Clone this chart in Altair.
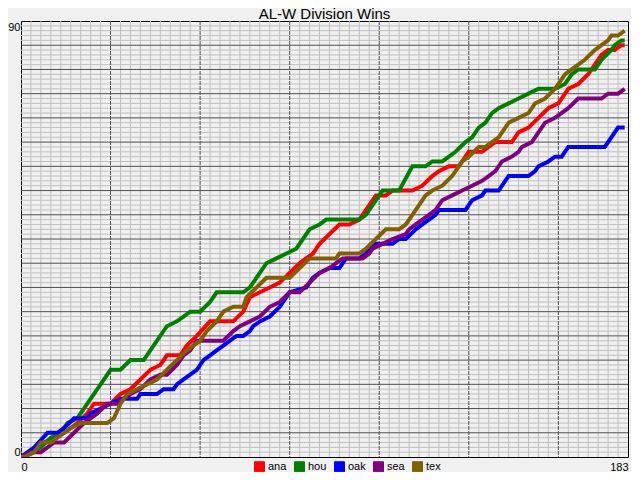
import altair as alt
import pandas as pd

teams = ["ana", "hou", "oak", "sea", "tex"]
colors = ["#ff0000", "#008000", "#0000ff", "#800080", "#806000"]

ana_days = [0, 4, 7, 10, 13, 17, 20, 22, 27, 30, 33, 36, 39, 42, 44, 48, 50, 53, 57, 64, 67, 69, 72, 75, 78, 81, 84, 86, 88, 90, 93, 96, 99, 102, 105, 107, 110, 112, 118, 121, 124, 126, 129, 132, 134, 135, 139, 141, 143, 148, 150, 153, 156, 159, 162, 165, 168, 171, 173, 175, 177, 179, 181, 182]
ana_wins = [0, 1, 3, 4, 5, 7, 9, 11, 11, 13, 14, 16, 18, 19, 21, 21, 23, 25, 28, 28, 30, 33, 34, 35, 36, 38, 40, 41, 42, 44, 46, 48, 48, 49, 52, 54, 54, 55, 55, 56, 58, 59, 60, 60, 62, 63, 63, 64, 65, 65, 67, 68, 70, 72, 73, 76, 77, 79, 81, 83, 84, 84, 85, 85]

hou_days = [0, 3, 6, 9, 12, 14, 17, 20, 24, 27, 30, 33, 37, 41, 44, 47, 49, 51, 54, 57, 59, 67, 69, 72, 74, 77, 80, 83, 85, 87, 90, 92, 102, 104, 107, 109, 114, 118, 122, 124, 127, 129, 131, 134, 136, 138, 140, 142, 144, 147, 150, 153, 156, 161, 164, 166, 168, 173, 175, 178, 179, 181, 182]
hou_wins = [0, 1, 2, 4, 5, 7, 8, 11, 15, 18, 18, 20, 20, 24, 27, 28, 29, 30, 30, 32, 34, 34, 35, 38, 40, 41, 42, 43, 45, 47, 48, 49, 49, 50, 53, 55, 55, 60, 60, 61, 61, 62, 63, 65, 66, 68, 69, 71, 72, 73, 74, 75, 76, 76, 77, 79, 80, 80, 82, 84, 85, 86, 86]

oak_days = [0, 4, 8, 11, 13, 16, 20, 21, 24, 27, 30, 35, 36, 41, 43, 46, 47, 49, 51, 53, 55, 57, 59, 61, 63, 65, 67, 69, 70, 72, 75, 78, 81, 86, 88, 90, 93, 96, 98, 102, 104, 105, 107, 112, 114, 116, 119, 121, 123, 125, 126, 134, 136, 139, 140, 144, 146, 147, 153, 155, 156, 159, 161, 163, 165, 167, 176, 177, 179, 180, 182]
oak_wins = [0, 2, 5, 5, 6, 8, 8, 9, 10, 11, 12, 12, 13, 13, 14, 14, 15, 16, 17, 18, 20, 21, 22, 23, 24, 25, 25, 26, 27, 28, 29, 31, 34, 35, 37, 38, 39, 39, 41, 41, 42, 43, 44, 44, 45, 45, 47, 48, 49, 50, 51, 51, 53, 54, 55, 55, 57, 58, 58, 59, 60, 61, 62, 62, 64, 64, 64, 65, 67, 68, 68]

sea_days = [0, 3, 6, 8, 10, 13, 16, 19, 23, 26, 29, 33, 36, 39, 42, 44, 47, 49, 51, 53, 61, 64, 66, 69, 72, 75, 78, 81, 84, 87, 90, 93, 95, 97, 103, 105, 106, 109, 112, 116, 117, 119, 121, 123, 125, 127, 130, 133, 136, 139, 141, 143, 145, 148, 150, 151, 154, 156, 158, 161, 165, 168, 175, 177, 180, 182]
sea_wins = [0, 1, 1, 2, 3, 3, 5, 7, 9, 11, 11, 13, 14, 16, 17, 17, 19, 21, 22, 24, 24, 26, 27, 28, 29, 31, 32, 34, 34, 36, 38, 39, 40, 41, 41, 42, 43, 44, 45, 46, 47, 48, 49, 50, 51, 53, 54, 55, 56, 57, 58, 59, 61, 62, 63, 64, 65, 67, 69, 70, 72, 74, 74, 75, 75, 76]

tex_days = [0, 1, 4, 6, 9, 13, 15, 18, 26, 28, 30, 32, 35, 38, 41, 44, 47, 50, 54, 56, 59, 61, 64, 67, 68, 71, 74, 81, 84, 87, 95, 96, 102, 104, 107, 110, 114, 116, 118, 120, 122, 124, 127, 130, 133, 135, 138, 140, 142, 144, 147, 150, 153, 155, 158, 161, 164, 166, 168, 170, 173, 175, 177, 178, 180, 182]
tex_wins = [0, 0, 1, 3, 3, 5, 6, 7, 7, 8, 11, 13, 14, 15, 16, 18, 20, 22, 24, 26, 28, 30, 31, 31, 33, 35, 37, 37, 39, 41, 41, 42, 42, 43, 45, 47, 47, 48, 50, 52, 54, 55, 56, 58, 61, 62, 64, 64, 65, 66, 69, 70, 71, 73, 74, 76, 79, 80, 81, 82, 84, 85, 86, 87, 87, 88]

x_labels = [0, 183]
y_labels = [0, 90]
minor_days = [d for d in range(3, 183, 3) if d % 27 != 0]
major_days = [27, 54, 81, 108, 135, 162]
minor_wins = [w for w in range(1, 90) if w % 5 != 0]
major_wins = [5, 10, 15, 20, 25, 30, 35, 40, 45, 50, 55, 60, 65, 70, 75, 80, 85]

series = {"ana": (ana_days, ana_wins), "hou": (hou_days, hou_wins),
          "oak": (oak_days, oak_wins), "sea": (sea_days, sea_wins),
          "tex": (tex_days, tex_wins)}
rows = []
for t in teams:
    ds, ws = series[t]
    for i, (d, w) in enumerate(zip(ds, ws)):
        rows.append({"team": t, "day": d, "wins": w, "i": i})
df = pd.DataFrame(rows)

FONT = "Liberation Sans"
xs = alt.Scale(domain=[0, 183], nice=False, zero=False)
ys = alt.Scale(domain=[0, 90], nice=False, zero=False)
xaxis = alt.Axis(values=x_labels, title=None, ticks=False, domain=False, grid=False,
                 labelFlush=True, labelPadding=4, labelFont=FONT, labelFontSize=11,
                 labelColor="black")
yaxis = alt.Axis(values=y_labels, title=None, ticks=False, domain=False, grid=False,
                 labelFlush=True, labelPadding=1, labelFont=FONT, labelFontSize=11,
                 labelColor="black")
cscale = alt.Scale(domain=teams, range=colors)

vminor = alt.Chart(pd.DataFrame({"day": minor_days})).mark_rule(
    color="#c0c0c0", strokeWidth=1).encode(x=alt.X("day:Q", scale=xs, axis=xaxis))
hminor = alt.Chart(pd.DataFrame({"wins": minor_wins})).mark_rule(
    color="#c0c0c0", strokeWidth=1).encode(y=alt.Y("wins:Q", scale=ys, axis=yaxis))
vmajor = alt.Chart(pd.DataFrame({"day": major_days})).mark_rule(
    color="#505050", strokeWidth=1, strokeDash=[4, 1]).encode(x=alt.X("day:Q", scale=xs, axis=xaxis))
hmajor = alt.Chart(pd.DataFrame({"wins": major_wins})).mark_rule(
    color="#505050", strokeWidth=1).encode(y=alt.Y("wins:Q", scale=ys, axis=yaxis))

legend_layer = alt.Chart(df).transform_filter("false").mark_square(
    filled=True, size=100).encode(
    color=alt.Color("team:N", scale=cscale, legend=alt.Legend(
        title=None, orient="none", legendX=233, legendY=440, direction="horizontal",
        symbolType="square", symbolSize=100, symbolStrokeColor="black",
        symbolStrokeWidth=1, symbolOpacity=1, labelFont=FONT, labelFontSize=11,
        labelColor="black", labelOffset=3, columnPadding=5, padding=0)))

lines = alt.Chart(df).mark_line(strokeWidth=4, clip=True).encode(
    x=alt.X("day:Q", scale=xs, axis=xaxis),
    y=alt.Y("wins:Q", scale=ys, axis=yaxis),
    color=alt.Color("team:N", scale=cscale, legend=None),
    order="i:Q")

chart = alt.layer(vminor, hminor, vmajor, hmajor, legend_layer, lines).properties(
    width=607, height=436,
    title=alt.TitleParams("AL-W Division Wins", font=FONT, fontSize=15,
                          fontWeight="normal", color="black", offset=-1,
                          anchor="middle"),
    background="#f0f0f0",
    padding={"left": 13, "top": 13, "right": 3, "bottom": 15},
    autosize=alt.AutoSizeParams(type="none"),
).configure_view(stroke="black", strokeWidth=1, fill="white")

chart.save("out.html", embed_options={"renderer": "svg", "actions": False})
